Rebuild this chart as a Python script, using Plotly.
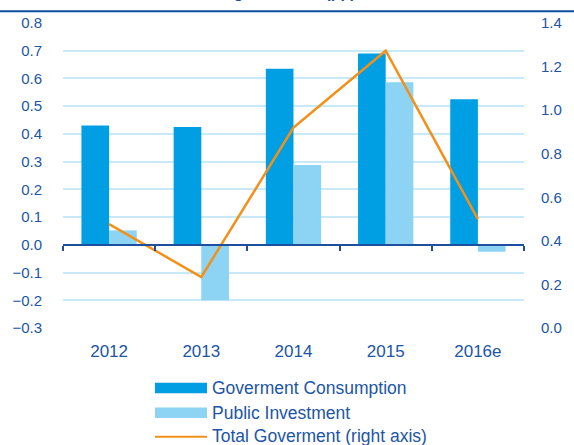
import plotly.graph_objects as go

# ---- data ----
years = ["2012", "2013", "2014", "2015", "2016e"]
gov_consumption = [0.43, 0.425, 0.635, 0.69, 0.525]
public_investment = [0.052, -0.2, 0.288, 0.586, -0.025]
total_government = [0.477, 0.234, 0.92, 1.273, 0.50]
left_ticks = [-0.3, -0.2, -0.1, 0.0, 0.1, 0.2, 0.3, 0.4, 0.5, 0.6, 0.7, 0.8]
right_ticks = [0.0, 0.2, 0.4, 0.6, 0.8, 1.0, 1.2, 1.4]
series_names = ["Goverment Consumption", "Public Investment", "Total Goverment (right axis)"]
title_text = "Contribution to GDP growth rate (pp)"

# ---- style ----
C_GC = "#009FE3"
C_PI = "#8DD3F4"
C_LINE = "#F39019"
C_AXIS = "#1D4F9E"
C_TEXT = "#2155A5"
C_GRID = "#C8EAF8"
FONT = "Arial, Liberation Sans, sans-serif"

W, H = 574, 445
L, R, T, B = 63, 50, 23, 117
PW, PH = W - L - R, H - T - B


def px(xp):
    return (xp - L) / PW


def py(yp):
    return (H - B - yp) / PH


fig = go.Figure()
fig.add_trace(go.Bar(x=years, y=gov_consumption, name=series_names[0],
                     marker=dict(color=C_GC, line=dict(width=0)),
                     xaxis="x", yaxis="y", showlegend=False))
fig.add_trace(go.Bar(x=years, y=public_investment, name=series_names[1],
                     marker=dict(color=C_PI, line=dict(width=0)),
                     xaxis="x", yaxis="y", showlegend=False))
fig.add_trace(go.Scatter(x=years, y=total_government, name=series_names[2],
                         mode="lines", line=dict(color=C_LINE, width=2.5),
                         xaxis="x2", yaxis="y2", showlegend=False))

ymin, ymax = -0.3, 0.8
fig.update_layout(
    width=W, height=H,
    margin=dict(l=L, r=R, t=T, b=B, pad=0),
    paper_bgcolor="white", plot_bgcolor="white",
    font=dict(family=FONT, color=C_TEXT, size=15),
    barmode="group", bargap=0.4, bargroupgap=0,
    xaxis=dict(type="category", range=[-0.5, 4.5], showgrid=False, showline=False,
               zeroline=False, ticks="outside", ticklen=8, tickcolor="rgba(0,0,0,0)",
               tickfont=dict(size=17, color=C_TEXT)),
    xaxis2=dict(type="category", range=[-0.5, 4.5], overlaying="x", anchor="free",
                position=(0 - ymin) / (ymax - ymin), side="bottom",
                showgrid=False, zeroline=False, showline=True, linecolor=C_AXIS, linewidth=2,
                ticks="outside", tickson="boundaries", ticklen=5, tickwidth=2,
                tickcolor=C_AXIS, showticklabels=False),
    yaxis=dict(range=[ymin, ymax], tickmode="array", tickvals=left_ticks,
               tickformat=".1f", showgrid=True, gridcolor=C_GRID, gridwidth=1.5,
               zeroline=False, showline=False, ticks="outside", ticklen=17,
               tickcolor="rgba(0,0,0,0)", tickfont=dict(size=15, color=C_TEXT)),
    yaxis2=dict(range=[0, 1.4], tickmode="array", tickvals=right_ticks, tickformat=".1f",
                overlaying="y", side="right", anchor="free", position=1,
                showgrid=False, zeroline=False, showline=False, ticks="outside",
                ticklen=13, tickcolor="rgba(0,0,0,0)", tickfont=dict(size=15, color=C_TEXT)),
)

# Title (mostly cut off at the top edge, as in the reference) and rule below it
fig.add_annotation(text="<b>" + title_text + "</b>", xref="paper", yref="paper",
                   x=px(358), y=py(3), xanchor="right", yanchor="bottom",
                   showarrow=False, font=dict(size=16, color=C_AXIS, family=FONT))
fig.add_shape(type="line", xref="paper", yref="paper", x0=px(0), x1=px(W),
              y0=py(11.3), y1=py(11.3), line=dict(color="#0B4EA2", width=2))

# Legend (drawn manually to mimic wide swatches)
fig.add_shape(type="rect", xref="paper", yref="paper", x0=px(155), x1=px(207),
              y0=py(393.3), y1=py(382.7), fillcolor=C_GC, line=dict(width=0))
fig.add_shape(type="rect", xref="paper", yref="paper", x0=px(155), x1=px(207),
              y0=py(418), y1=py(407.4), fillcolor=C_PI, line=dict(width=0))
fig.add_shape(type="line", xref="paper", yref="paper", x0=px(155), x1=px(207),
              y0=py(436.7), y1=py(436.7), line=dict(color=C_LINE, width=2))
for name, yc in zip(series_names, [388, 412.5, 436]):
    fig.add_annotation(text=name, xref="paper", yref="paper", x=px(210), y=py(yc),
                       xanchor="left", yanchor="middle", showarrow=False,
                       font=dict(size=17.5, color=C_TEXT, family=FONT))

fig.write_html("out.html",
               config={"displayModeBar": False},
               post_script="document.body.style.margin='0';"
                           "document.body.style.overflow='hidden';")
